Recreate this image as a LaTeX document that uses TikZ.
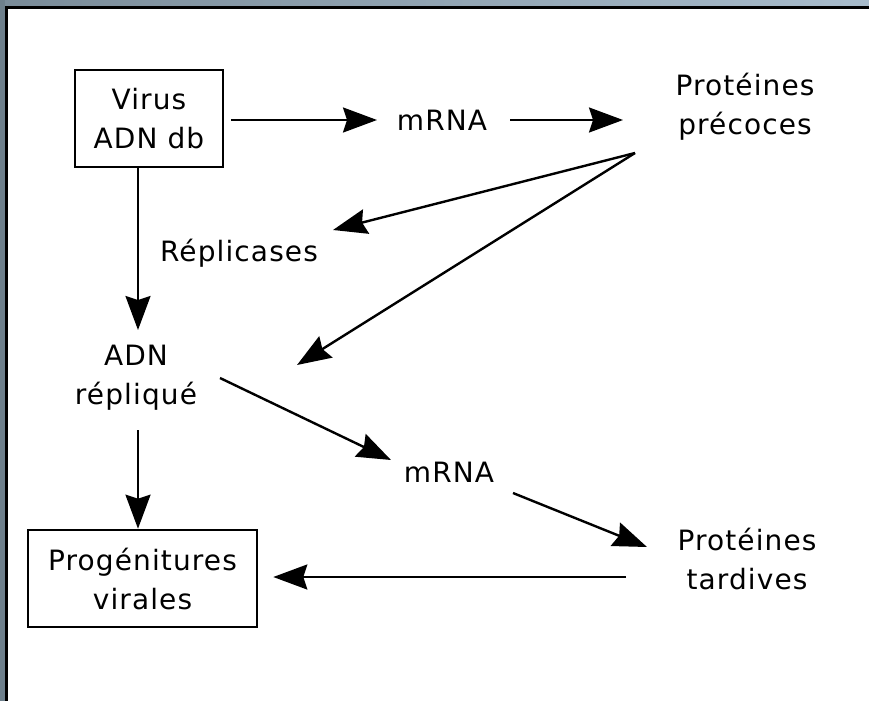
\documentclass[tikz,border=0pt]{standalone}
\usepackage{fontspec}
\setmainfont{DejaVu Sans}[LetterSpace=4]
\usetikzlibrary{arrows.meta,calc}
\definecolor{frameA}{RGB}{122,140,153}
\definecolor{frameB}{RGB}{168,188,204}
\definecolor{frameL}{RGB}{110,128,140}
\tikzset{
  lbl/.style={inner sep=0pt, align=center, font=\fontsize{28}{39}\selectfont},
  boxnode/.style={lbl, draw, line width=2.6pt},
  arr/.style={line width=2.4pt, -{Stealth[length=34pt,width=25pt,inset=4pt]}}
}
\begin{document}
\begin{tikzpicture}[x=1pt,y=-1pt]
\useasboundingbox (0,0) rectangle (869,701);
\fill[white] (0,0) rectangle (869,701);
% window frame
\shade[left color=frameA, right color=frameB] (0,0) rectangle (869,6.5);
\fill[frameL] (0,0) rectangle (4.5,701);
\fill[black] (4.5,6.5) rectangle (869,9);
\fill[black] (4.5,6.5) rectangle (7.5,701);
% nodes
\node[boxnode, minimum width=148pt, minimum height=97pt] (virus) at (149,118.5) {Virus\\ADN db};
\node[lbl] (m1) at (442,120) {mRNA};
\node[lbl] (pp) at (745,107) {Protéines\\précoces};
\node[lbl] (rep) at (239,253) {Réplicases};
\node[lbl] (adn) at (136,378) {ADN\\répliqué};
\node[lbl] (m2) at (449,472) {mRNA};
\node[lbl] (pt) at (747,559) {Protéines\\tardives};
\node[boxnode, minimum width=229pt, minimum height=97pt] (prog) at (142.5,578.5) {Progénitures\\virales};
% connectors
\draw[arr] ($(virus.east)+(7,1.5)$) -- ($(m1)+(-65,0)$);
\draw[arr] ($(m1)+(68,0)$) -- ($(pp)+(-122,13)$);
\draw[arr] ($(pp)+(-110,46)$) -- ($(rep)+(94,-23)$);
\draw[arr] ($(pp)+(-110,46)$) -- ($(adn)+(161,-13)$);
\draw[arr] ($(virus.south)+(-11,0)$) -- ($(adn)+(2,-48)$);
\draw[arr] ($(adn)+(84,0)$) -- ($(m2)+(-58,-12)$);
\draw[arr] ($(m2)+(64,21)$) -- ($(pt)+(-100,-12)$);
\draw[arr] ($(pt)+(-121,18)$) -- ($(prog.east)+(15,-1.5)$);
\draw[arr] ($(adn)+(2,52)$) -- ($(prog.north)+(-4.5,0)$);
\end{tikzpicture}
\end{document}
